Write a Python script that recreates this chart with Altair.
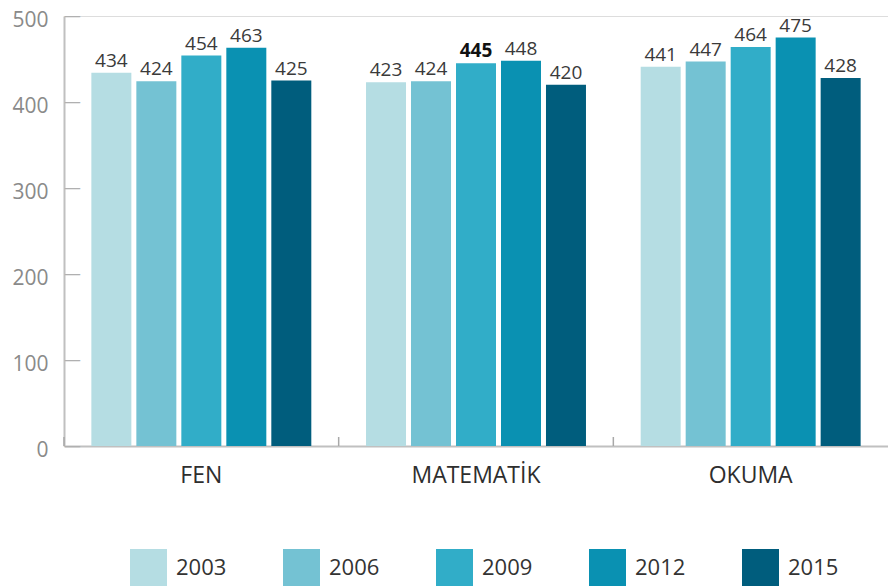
import altair as alt
import pandas as pd

subjects = ["FEN", "MATEMATİK", "OKUMA"]
years = ["2003", "2006", "2009", "2012", "2015"]
fen = [434, 424, 454, 463, 425]
matematik = [423, 424, 445, 448, 420]
okuma = [441, 447, 464, 475, 428]
colors = ["#b5dde3", "#74c2d3", "#31adc8", "#0a91b2", "#005d7d"]
y_ticks = [0, 100, 200, 300, 400, 500]
tick_glyph = ["—"] * len(y_ticks)

rows = []
for s, vals in zip(subjects, [fen, matematik, okuma]):
    for y, v in zip(years, vals):
        rows.append({"subject": s, "year": y, "value": v})
df = pd.DataFrame(rows)
ticks_df = pd.DataFrame({"value": y_ticks, "glyph": tick_glyph})
subj_df = pd.DataFrame({"subject": subjects})

W, H = 824, 430
FONT = "Open Sans"

x_enc = alt.X(
    "subject:N", sort=subjects, title=None,
    scale=alt.Scale(paddingInner=0, paddingOuter=0),
    axis=alt.Axis(labelAngle=0, labelFont=FONT, labelFontSize=23, labelColor="#2e2e2e",
                  labelPadding=18, ticks=False, tickSize=0, domainColor="#c0c0c0",
                  domainWidth=2, grid=False),
)
xo_enc = alt.XOffset("year:N", sort=years,
                     scale=alt.Scale(paddingInner=0.111, paddingOuter=0.608))
y_enc = alt.Y(
    "value:Q", title=None,
    scale=alt.Scale(domain=[0, 500], nice=False),
    axis=alt.Axis(values=y_ticks, labelFont=FONT, labelFontSize=21, labelColor="#8a8a8a",
                  labelPadding=16, labelOffset=4, ticks=False, tickSize=0,
                  domainColor="#c0c0c0", domainWidth=2, grid=False),
)

bars = alt.Chart(df).mark_bar().encode(
    x=x_enc, xOffset=xo_enc, y=y_enc,
    color=alt.Color(
        "year:N", sort=years,
        scale=alt.Scale(domain=years, range=colors),
        legend=alt.Legend(
            title=None, orient="none", direction="horizontal",
            legendX=66, legendY=533, padding=0,
            symbolType="square", symbolSize=1369, symbolStrokeWidth=0,
            symbolOpacity=1, labelFont=FONT, labelFontSize=22, labelColor="#333333",
            labelOffset=9, columnPadding=56, labelLimit=200,
        ),
    ),
)

is_bold = "datum.subject == 'MATEMATİK' && datum.year == '2009'"

labels = alt.Chart(df).transform_filter("!(" + is_bold + ")").mark_text(
    baseline="alphabetic", dy=-6, font=FONT, fontSize=19, color="#3a3a3a"
).encode(
    x=alt.X("subject:N", sort=subjects),
    xOffset=alt.XOffset("year:N", sort=years),
    y="value:Q",
    text="value:Q",
)

labels_bold = alt.Chart(df).transform_filter(is_bold).mark_text(
    baseline="alphabetic", dy=-6, font=FONT, fontSize=19, fontWeight="bold", color="#111111"
).encode(
    x=alt.X("subject:N", sort=subjects),
    xOffset=alt.XOffset("year:N", sort=years),
    y="value:Q",
    text="value:Q",
)

ytick_marks = alt.Chart(ticks_df).mark_text(
    font="DejaVu Sans", fontSize=17, color="#b0b0b0", align="left", baseline="middle"
).encode(
    y=alt.Y("value:Q"), x=alt.value(0), text="glyph:N"
)

xtick_rules = alt.Chart(subj_df).mark_rule(color="#a8a8a8", strokeWidth=1.5).encode(
    x=alt.X("subject:N", sort=subjects, bandPosition=0),
    y=alt.value(H - 9), y2=alt.value(H),
)

chart = alt.layer(bars, labels, labels_bold, xtick_rules, ytick_marks).properties(
    width=W, height=H,
    autosize=alt.AutoSizeParams(type="none"),
    padding={"left": 56, "top": 8, "right": 0, "bottom": 141},
).configure_view(stroke=None).configure(background="white")

chart.save("out.html", embed_options={"renderer": "svg", "actions": False})
